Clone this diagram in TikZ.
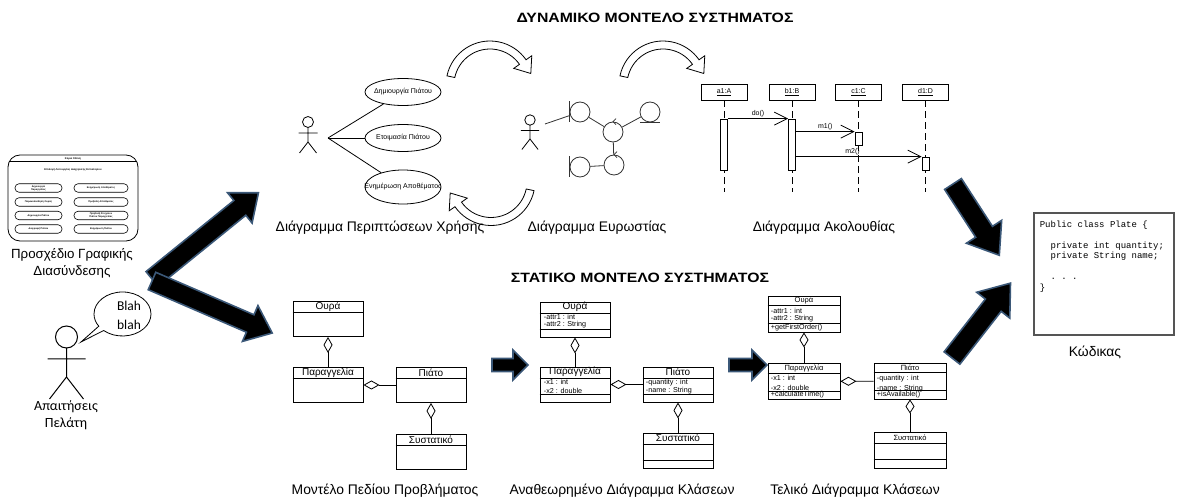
\documentclass[tikz,border=0pt]{standalone}
\usepackage{fontspec}
\setmainfont{Liberation Sans}
\setmonofont{Liberation Mono}
\newfontfamily\capfont{Carlito}
\usetikzlibrary{shapes.geometric,shapes.callouts,arrows.meta,positioning,calc}

\definecolor{arrowblue}{HTML}{3B5878}
\definecolor{codeframe}{HTML}{555555}

\tikzset{
  caption/.style={font=\fontsize{13.9}{17}\selectfont, align=center, inner sep=0},
  speech/.style={font=\capfont\fontsize{14}{17}\selectfont, align=center, inner sep=0},
  title/.style={font=\bfseries\fontsize{13.5}{15}\selectfont, inner sep=0, xscale=1.17, transform shape},
  guitext/.style={font=\bfseries\fontsize{2.6}{3}\selectfont, inner sep=0},
  guibtn/.style={draw, rounded corners=4, minimum height=8.5, inner sep=0.3,
    line width=0.6pt, align=center, font=\bfseries\fontsize{2.4}{2.8}\selectfont},
  uclabel/.style={font=\fontsize{7}{8}\selectfont, inner sep=0},
  usecase/.style={draw, ellipse, minimum width=76, minimum height=27, inner sep=0,
    label={[uclabel]center:#1}},
  robj/.style={draw=black!80, circle, minimum size=20, inner sep=0},
  lifebox/.style={draw, minimum width=46, minimum height=16, inner sep=0,
    font=\fontsize{7}{8}\selectfont},
  activation/.style={draw, fill=white, minimum width=7, inner sep=0},
  lifeline/.style={dash pattern=on 7pt off 4pt},
  msg/.style={-{Straight Barb[length=13pt,width=13pt]}},
  msglabel/.style={font=\fontsize{7}{8}\selectfont, inner sep=1.5},
  classbox/.style={draw, line width=0.9pt, minimum width=70, minimum height=35, inner sep=0},
  cname/.style={inner sep=0, font=\fontsize{10}{11}\selectfont},
  cnamesmall/.style={inner sep=0, font=\fontsize{7.5}{8}\selectfont},
  attr/.style={anchor=west, inner sep=0, font=\fontsize{7.2}{8}\selectfont},
  agg/.style={{Diamond[open,length=16pt,width=9pt]}-},
  codetext/.style={font=\ttfamily\fontsize{9}{10.5}\selectfont, align=left, inner sep=0},
  pics/actor/.style={code={
    \draw (0,0) circle[radius=5.5];
    \draw (0,-5.5) -- (0,-20) (-9.5,-11) -- (9.5,-11) (-8.5,-31) -- (0,-20) -- (8.5,-31);
  }},
  pics/blockarrow/.style n args={4}{code={
    \draw[arrowblue, line width=1.6pt, fill=black, line join=miter]
      (0,-#2) -- (#1-#4,-#2) -- (#1-#4,-#3) -- (#1,0) -- (#1-#4,#3) -- (#1-#4,#2) -- (0,#2) -- cycle;
  }},
  pics/turnarrow/.style={code={
    \draw[fill=white, line width=0.8pt, line join=miter]
      (168:44) arc[start angle=168, end angle=35, radius=44] -- (35:51) -- (40.8,11.5)
      -- (35:29) -- (35:36) arc[start angle=35, end angle=168, radius=36] -- cycle;
  }}
}

\begin{document}
\begin{tikzpicture}[x=1pt, y=1pt, line width=0.8pt]
\useasboundingbox (0,0) rectangle (1178,501);

% headings
\node[title] (dyn) at (655,483) {ΔΥΝΑΜΙΚΟ ΜΟΝΤΕΛΟ ΣΥΣΤΗΜΑΤΟΣ};
\node[title] (stat) at (640,223) {ΣΤΑΤΙΚΟ ΜΟΝΤΕΛΟ ΣΥΣΤΗΜΑΤΟΣ};

% screen sketch
\node[draw, rounded corners=12, minimum width=130, minimum height=86] (gui) at (73,303) {};
\draw[shorten <=1.3, shorten >=1.3] ([yshift=-7]gui.north west) -- ([yshift=-7]gui.north east);
\node[guitext] (guititle) at (73,342.5) {Κύρια Οθόνη};
\node[guitext] (guisub) at (73,331) {Επιλογή Λειτουργίας Διαχείρισης Εστιατορίου};
\node[guibtn, minimum width=47] (gb1) at (38.5,313) {Δημιουργία\\Παραγγελίας};
\node[guibtn, minimum width=47] (gb2) at (38.5,299) {Παρακολούθηση Ουράς};
\node[guibtn, minimum width=47] (gb3) at (38.5,285.5) {Δημιουργία Πιάτου};
\node[guibtn, minimum width=47] (gb4) at (38.5,272) {Διαγραφή Πιάτου};
\node[guibtn, minimum width=54] (gb5) at (101,313) {Ενημέρωση Αποθέματος};
\node[guibtn, minimum width=54] (gb6) at (101,299) {Προβολή Αποθέματος};
\node[guibtn, minimum width=54] (gb7) at (101,285.5) {Προβολή Στοιχείων\\Πιάτου Παραγγελίας};
\node[guibtn, minimum width=54] (gb8) at (101,272) {Ενημέρωση Πιάτου};
\node[caption, font=\fontsize{13.3}{17}\selectfont] (guicap) at (72,238) {Προσχέδιο Γραφικής\\Διασύνδεσης};

% customer with speech bubble
\pic[scale=2, line width=1pt] at (66.5,164) {actor};
\node[speech] (reqcap) at (66,86) {Απαιτήσεις\\Πελάτη};
\node[draw, ellipse callout, minimum width=57, minimum height=44,
  callout absolute pointer={(81,159)}] (bub) at (122.5,187) {};
\node[speech, font=\capfont\fontsize{13.5}{17}\selectfont] (blah) at (129,186) {Blah\\[2pt]blah};

% big arrows
\pic[rotate=39] at (152,222) {blockarrow={137}{9.5}{19.5}{24}};
\pic[rotate=-23.4] at (152,220) {blockarrow={131}{9.5}{19.5}{24}};
\pic[rotate=-57] at (953,317) {blockarrow={85}{10}{21}{28}};
\pic[rotate=52] at (952,143) {blockarrow={95}{10}{21}{28}};
\pic at (492,136) {blockarrow={36}{6.5}{15}{15}};
\pic at (729,136) {blockarrow={38}{6.5}{15}{15}};

% turning arrows between the dynamic views
\pic at (490,416) {turnarrow};
\pic at (663,416) {turnarrow};
\pic[rotate=180] at (491,319.5) {turnarrow};

% use cases
\pic at (308,379) {actor};
\coordinate (ua) at (328,363);
\node[usecase={Δημιουργία Πιάτου}] (uc1) at (403,409) {};
\node[usecase={Ετοιμασία Πιάτου}] (uc2) at (403,363) {};
\node[usecase={Ενημέρωση Αποθέματος}, minimum height=34] (uc3) at (403,314) {};
\draw (ua) -- (uc1);
\draw (ua) -- (uc2);
\draw (ua) -- (uc3);
\node[caption] (uccap) at (380,273) {Διάγραμμα Περιπτώσεων Χρήσης};

% robustness
\pic[scale=0.95] at (530,381) {actor};
\coordinate (ra) at (545,377);
\node[robj] (rb1) at (580,389) {};
\node[robj] (rc1) at (613,369) {};
\node[robj] (re1) at (650,389) {};
\node[robj] (rc2) at (614,336) {};
\node[robj] (rb2) at (580,334) {};
\begin{scope}[black!80]
\draw ([yshift=10.5]rb1.west) -- ([yshift=-10.5]rb1.west);
\draw ([yshift=10.5]rb2.west) -- ([yshift=-10.5]rb2.west);
\draw ([xshift=-10]re1.south) -- ([xshift=10]re1.south);
\draw ([xshift=3,yshift=3]rc1.north) -- (rc1.north) -- ([xshift=3,yshift=-3]rc1.north);
\draw ([xshift=3,yshift=3]rc2.north) -- (rc2.north) -- ([xshift=3,yshift=-3]rc2.north);
\draw (ra) -- (rb1);
\draw (rb1) -- (rc1);
\draw (rc1) -- (re1);
\draw (rc1) -- (rc2);
\draw (rb2) -- (rc2);
\end{scope}
\node[caption] (robcap) at (597,273) {Διάγραμμα Ευρωστίας};

% sequence
\coordinate (seqbot) at (0,309);
\node[lifebox] (a1) at (724,409) {\underline{a1:A}};
\node[lifebox] (b1) at (792,409) {\underline{b1:B}};
\node[lifebox] (c1) at (858.5,409) {\underline{c1:C}};
\node[lifebox] (d1) at (925.5,409) {\underline{d1:D}};
\draw[lifeline] (a1.south) -- (a1.south |- seqbot);
\draw[lifeline] (b1.south) -- (b1.south |- seqbot);
\draw[lifeline] (c1.south) -- (c1.south |- seqbot);
\draw[lifeline] (d1.south) -- (d1.south |- seqbot);
\node[activation, minimum height=51] (a1act) at (724,356.5) {};
\node[activation, minimum height=51] (b1act) at (792,356.5) {};
\node[activation, minimum height=13] (c1act) at (858.5,362.5) {};
\node[activation, minimum height=13] (d1act) at (925.5,337.5) {};
\draw[msg] (a1act.north east) -- (b1act.north west) node[midway, above, msglabel] {do()};
\draw[msg] (b1act.east |- c1act.north) -- (c1act.north west) node[midway, above, msglabel] {m1()};
\draw[msg] (b1act.east |- d1act.north) -- (d1act.north west) node[pos=0.45, above, msglabel] {m2()};
\node[caption] (seqcap) at (824,273) {Διάγραμμα Ακολουθίας};

% code
\node[draw=codeframe, line width=1.2pt, minimum width=140, minimum height=122, inner sep=0] (code) at (1104,227) {};
\node[codetext, anchor=north west] (src) at ([xshift=6,yshift=-8]code.north west)
  {Public class Plate \{\\[10.5pt]
   \phantom{xx}private int quantity;\\
   \phantom{xx}private String name;\\[10.5pt]
   \phantom{xx}. . .\\
   \}};
\node[caption] (codecap) at (1095,149) {Κώδικας};

% domain model
\node[classbox] (q1) at (328,182) {};
\node[classbox] (o1) at (328,116) {};
\node[classbox] (p1) at (431,116) {};
\node[classbox] (s1) at (431,49) {};
\node[cname] at ([yshift=-5.5]q1.north) {Ουρά};
\node[cname] at ([yshift=-5.5]o1.north) {Παραγγελία};
\node[cname] at ([yshift=-5.5]p1.north) {Πιάτο};
\node[cname] at ([yshift=-5.5]s1.north) {Συστατικό};
\draw ([yshift=-11.5]q1.north west) -- ([yshift=-11.5]q1.north east);
\draw ([yshift=-11.5]o1.north west) -- ([yshift=-11.5]o1.north east);
\draw ([yshift=-11.5]p1.north west) -- ([yshift=-11.5]p1.north east);
\draw ([yshift=-11.5]s1.north west) -- ([yshift=-11.5]s1.north east);
\draw[agg] (q1) -- (o1);
\draw[agg] (o1) -- (p1);
\draw[agg] (p1) -- (s1);
\node[caption] (domcap) at (385,10) {Μοντέλο Πεδίου Προβλήματος};

% revised class diagram
\node[classbox] (q2) at (575,181.5) {};
\node[classbox] (o2) at (575,116.5) {};
\node[classbox] (p2) at (678,116.5) {};
\node[classbox] (s2) at (678,50.5) {};
\node[cname] at ([yshift=-5.5]q2.north) {Ουρά};
\node[cname] at ([yshift=-5.5]o2.north) {Παραγγελία};
\node[cname] at ([yshift=-5.5]p2.north) {Πιάτο};
\node[cname] at ([yshift=-5.5]s2.north) {Συστατικό};
\foreach \c in {q2,o2,p2,s2} {
  \draw ([yshift=-11.5]\c.north west) -- ([yshift=-11.5]\c.north east);
  \draw ([yshift=-27.5]\c.north west) -- ([yshift=-27.5]\c.north east);
}
\node[attr] at ([xshift=4,yshift=-15.5]q2.north west) {-attr1 : int};
\node[attr] at ([xshift=4,yshift=-23]q2.north west) {-attr2 : String};
\node[attr] at ([xshift=4,yshift=-15.5]o2.north west) {-x1 : int};
\node[attr] at ([xshift=4,yshift=-24]o2.north west) {-x2 : double};
\node[attr] at ([xshift=3,yshift=-16]p2.north west) {-quantity : int};
\node[attr] at ([xshift=3,yshift=-24.5]p2.north west) {-name : String};
\draw[agg] (q2) -- (o2);
\draw[agg] (o2) -- (p2);
\draw[agg] (p2) -- (s2);
\node[caption] (revcap) at (622,10) {Αναθεωρημένο Διάγραμμα Κλάσεων};

% final class diagram
\node[classbox, minimum width=72, minimum height=36] (q3) at (804,187) {};
\node[classbox, minimum width=72, minimum height=36] (o3) at (804,119.5) {};
\node[classbox, minimum width=72, minimum height=36] (p3) at (910,120) {};
\node[classbox, minimum width=72, minimum height=36] (s3) at (910,51) {};
\node[cnamesmall] at ([yshift=-5]q3.north) {Ουρά};
\node[cnamesmall] at ([yshift=-5.5]o3.north) {Παραγγελία};
\node[cnamesmall] at ([yshift=-5.5]p3.north) {Πιάτο};
\node[cnamesmall] at ([yshift=-6]s3.north) {Συστατικό};
\foreach \c in {q3,o3,p3} {
  \draw ([yshift=-10]\c.north west) -- ([yshift=-10]\c.north east);
  \draw ([yshift=-28]\c.north west) -- ([yshift=-28]\c.north east);
}
\draw ([yshift=-12]s3.north west) -- ([yshift=-12]s3.north east);
\draw ([yshift=-28]s3.north west) -- ([yshift=-28]s3.north east);
\node[attr] at ([xshift=3,yshift=-15]q3.north west) {-attr1 : int};
\node[attr] at ([xshift=3,yshift=-23]q3.north west) {-attr2 : String};
\node[attr] at ([xshift=3,yshift=-32]q3.north west) {+getFirstOrder()};
\node[attr] at ([xshift=3,yshift=-15]o3.north west) {-x1 : int};
\node[attr] at ([xshift=3,yshift=-25]o3.north west) {-x2 : double};
\node[attr] at ([xshift=3,yshift=-32]o3.north west) {+calculateTime()};
\node[attr] at ([xshift=3,yshift=-16]p3.north west) {-quantity : int};
\node[attr] at ([xshift=3,yshift=-26]p3.north west) {-name : String};
\node[attr] at ([xshift=3,yshift=-32.5]p3.north west) {+isAvailable()};
\draw[{Diamond[open,length=15pt,width=9pt]}-] (q3) -- (o3);
\draw[agg] (o3) -- (p3);
\draw[{Diamond[open,length=14pt,width=9pt]}-] (p3) -- (s3);
\node[caption] (fincap) at (855,10) {Τελικό Διάγραμμα Κλάσεων};

\end{tikzpicture}
\end{document}
